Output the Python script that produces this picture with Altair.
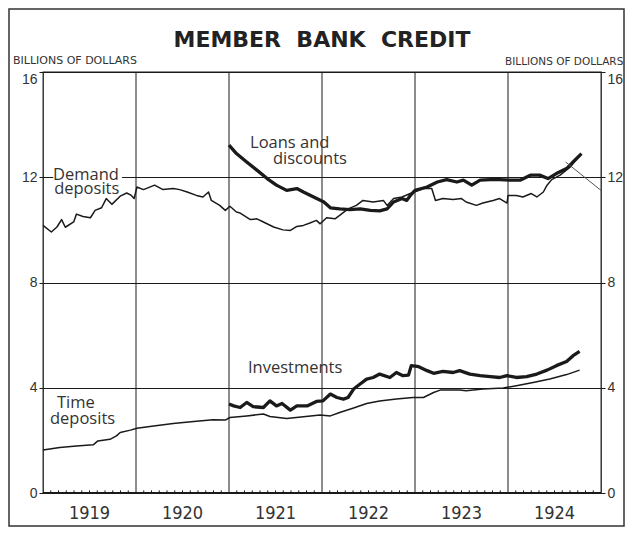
import altair as alt
import pandas as pd

# ---- data (decimal years, billions of dollars) ----
demand_t = [1919.00, 1919.09, 1919.15, 1919.20, 1919.24, 1919.33, 1919.36, 1919.43, 1919.51, 1919.56,
            1919.63, 1919.68, 1919.74, 1919.83, 1919.90, 1919.95, 1919.98, 1920.01, 1920.08, 1920.20,
            1920.29, 1920.40, 1920.47, 1920.55, 1920.65, 1920.72, 1920.78, 1920.81, 1920.90, 1920.96,
            1921.01, 1921.08, 1921.12, 1921.23, 1921.30, 1921.37, 1921.48, 1921.58, 1921.66, 1921.73,
            1921.80, 1921.87, 1921.94, 1921.98, 1922.05, 1922.14, 1922.19, 1922.28, 1922.37, 1922.44,
            1922.55, 1922.66, 1922.70, 1922.77, 1922.86, 1922.95, 1922.98, 1923.09, 1923.18, 1923.22,
            1923.30, 1923.41, 1923.50, 1923.55, 1923.66, 1923.73, 1923.84, 1923.91, 1923.99, 1924.00,
            1924.09, 1924.16, 1924.25, 1924.31, 1924.38, 1924.42, 1924.47, 1924.56, 1924.67, 1924.77]
demand_v = [10.17, 9.92, 10.11, 10.39, 10.10, 10.30, 10.60, 10.51, 10.46, 10.74,
            10.84, 11.19, 10.97, 11.28, 11.40, 11.31, 11.19, 11.63, 11.53, 11.70,
            11.53, 11.57, 11.53, 11.44, 11.31, 11.25, 11.44, 11.12, 10.93, 10.74,
            10.90, 10.68, 10.64, 10.39, 10.42, 10.30, 10.11, 10.00, 9.98, 10.13,
            10.17, 10.26, 10.36, 10.23, 10.46, 10.42, 10.55, 10.80, 10.93, 11.12,
            11.06, 11.12, 10.93, 11.19, 11.25, 11.38, 11.42, 11.57, 11.57, 11.12,
            11.19, 11.15, 11.19, 11.06, 10.93, 11.02, 11.12, 11.19, 11.02, 11.31,
            11.31, 11.25, 11.38, 11.25, 11.44, 11.70, 11.91, 12.08, 12.39, 12.84]

loans_t = [1921.00, 1921.08, 1921.19, 1921.30, 1921.41, 1921.51, 1921.62, 1921.73, 1921.80, 1921.91,
           1922.02, 1922.09, 1922.19, 1922.30, 1922.41, 1922.52, 1922.62, 1922.70, 1922.77, 1922.86,
           1922.91, 1922.95, 1923.00, 1923.13, 1923.24, 1923.34, 1923.45, 1923.52, 1923.61, 1923.70,
           1923.81, 1923.91, 1924.02, 1924.13, 1924.24, 1924.34, 1924.43, 1924.52, 1924.63, 1924.70,
           1924.79]
loans_v = [13.22, 12.90, 12.58, 12.27, 11.95, 11.70, 11.50, 11.57, 11.44, 11.25,
           11.06, 10.84, 10.80, 10.77, 10.80, 10.74, 10.72, 10.80, 11.06, 11.19,
           11.12, 11.31, 11.50, 11.63, 11.82, 11.91, 11.82, 11.89, 11.70, 11.89,
           11.91, 11.91, 11.89, 11.89, 12.08, 12.08, 11.95, 12.14, 12.33, 12.58,
           12.90]

time_t = [1919.00, 1919.18, 1919.36, 1919.54, 1919.59, 1919.72, 1919.79, 1919.83, 1919.94, 1920.01,
          1920.19, 1920.40, 1920.62, 1920.83, 1920.96, 1921.01, 1921.19, 1921.37, 1921.44, 1921.62,
          1921.80, 1921.98, 1922.09, 1922.19, 1922.34, 1922.48, 1922.62, 1922.80, 1922.98, 1923.09,
          1923.20, 1923.27, 1923.48, 1923.55, 1923.73, 1923.95, 1924.09, 1924.27, 1924.45, 1924.63,
          1924.77]
time_v = [1.63, 1.73, 1.79, 1.83, 1.98, 2.04, 2.17, 2.30, 2.39, 2.46,
          2.55, 2.64, 2.72, 2.78, 2.77, 2.87, 2.93, 3.00, 2.91, 2.83,
          2.90, 2.96, 2.93, 3.06, 3.23, 3.40, 3.50, 3.57, 3.63, 3.63,
          3.82, 3.91, 3.91, 3.89, 3.95, 3.99, 4.08, 4.20, 4.33, 4.50,
          4.67]

inv_t = [1921.00, 1921.05, 1921.12, 1921.19, 1921.26, 1921.37, 1921.44, 1921.51, 1921.57, 1921.66,
         1921.73, 1921.84, 1921.94, 1922.01, 1922.09, 1922.16, 1922.23, 1922.28, 1922.34, 1922.41,
         1922.48, 1922.55, 1922.62, 1922.73, 1922.80, 1922.87, 1922.93, 1922.96, 1923.04, 1923.13,
         1923.20, 1923.30, 1923.41, 1923.48, 1923.59, 1923.70, 1923.81, 1923.91, 1923.99, 1924.09,
         1924.20, 1924.31, 1924.42, 1924.52, 1924.63, 1924.70, 1924.77]
inv_v = [3.38, 3.31, 3.25, 3.44, 3.28, 3.25, 3.50, 3.31, 3.40, 3.15,
         3.31, 3.31, 3.48, 3.50, 3.76, 3.63, 3.57, 3.63, 3.95, 4.14,
         4.33, 4.39, 4.52, 4.39, 4.58, 4.46, 4.48, 4.84, 4.80, 4.65,
         4.55, 4.62, 4.58, 4.65, 4.52, 4.46, 4.42, 4.39, 4.46, 4.39,
         4.42, 4.52, 4.67, 4.84, 5.00, 5.22, 5.38]

years = [1919, 1920, 1921, 1922, 1923, 1924]
y_ticks = [0, 4, 8, 12, 16]

labels = ["Demand", "deposits", "Loans and", "discounts", "Investments", "Time", "deposits"]
label_t = [1919.108, 1919.12, 1921.226, 1921.473, 1921.204, 1919.15, 1919.075]
label_v = [11.90, 11.36, 13.11, 12.52, 4.55, 3.23, 2.63]

# ---- tables ----
def series(name, ts, vs):
    return pd.DataFrame({"series": name, "t": ts, "v": vs})

thin_df = pd.concat([series("Demand deposits", demand_t, demand_v),
                     series("Time deposits", time_t, time_v)])
thick_df = pd.concat([series("Loans and discounts", loans_t, loans_v),
                      series("Investments", inv_t, inv_v)])
grid_df = pd.DataFrame({"t": years[1:]})
year_df = pd.DataFrame({"year": [str(y) for y in years], "mid": [y + 0.5 for y in years]})
month_df = pd.DataFrame({"t": [y + m / 12 for y in years for m in range(1, 12)]})
month_df["y0"] = 0.0
month_df["y1"] = 0.1
base_df = pd.DataFrame({"v": [0.0]})
label_df = pd.DataFrame({"label": labels, "t": label_t, "v": label_v})
mask_df = pd.DataFrame({"t1": [1919.11], "t2": [1919.85], "v1": [11.8], "v2": [12.2]})
pointer_df = pd.DataFrame({"t1": [1924.62], "t2": [1925.0], "v1": [12.58], "v2": [11.5]})
one = pd.DataFrame({"a": [0]})

X = alt.Scale(domain=[1919, 1925], nice=False, zero=False)
Y = alt.Scale(domain=[0, 16], nice=False)
INK = "#1a1a1a"
LABEL_FONT = "Liberation Sans"
flush_baseline = {"condition": {"test": "datum.value == 16", "value": "top"}, "value": "middle"}

gridrules = alt.Chart(grid_df).mark_rule(color=INK, strokeWidth=1).encode(
    x=alt.X("t:Q", scale=X, axis=None))

mask = alt.Chart(mask_df).mark_rect(color="white").encode(
    x=alt.X("t1:Q", scale=X, axis=None), x2="t2:Q",
    y=alt.Y("v1:Q", scale=Y, axis=None), y2="v2:Q")

thin = alt.Chart(thin_df).mark_line(color=INK, strokeWidth=1.5, strokeJoin="round").encode(
    x=alt.X("t:Q", scale=X, axis=None),
    y=alt.Y("v:Q", scale=Y, axis=alt.Axis(
        orient="left", values=y_ticks, title=None, grid=True, gridColor=INK, gridWidth=1,
        gridOpacity=1, domain=False, ticks=True, tickSize=4, tickColor=INK,
        labelFont=LABEL_FONT, labelFontSize=14, labelColor="#333", labelPadding=2,
        labelBaseline=flush_baseline)),
    detail="series:N")

thick = alt.Chart(thick_df).mark_line(color=INK, strokeWidth=3.3, strokeJoin="round").encode(
    x=alt.X("t:Q", scale=X, axis=None),
    y=alt.Y("v:Q", scale=Y, axis=alt.Axis(
        orient="right", values=y_ticks, title=None, grid=False, domain=False, ticks=True,
        tickSize=4, tickColor=INK, labelFont=LABEL_FONT, labelFontSize=14,
        labelColor="#333", labelPadding=2, labelBaseline=flush_baseline)),
    detail="series:N")

baseline = alt.Chart(base_df).mark_rule(color=INK, strokeWidth=2.2).encode(
    y=alt.Y("v:Q", scale=Y, axis=None))

months = alt.Chart(month_df).mark_rule(color=INK, strokeWidth=1).encode(
    x=alt.X("t:Q", scale=X, axis=None),
    y=alt.Y("y0:Q", scale=Y, axis=None), y2="y1:Q")

year_labels = alt.Chart(year_df).mark_text(
    baseline="top", align="center",
    font="Liberation Sans Narrow, DejaVu Sans Condensed, Liberation Sans",
    fontSize=18, color="#333").encode(
    x=alt.X("mid:Q", scale=X, axis=None), y=alt.value(433), text="year:N")

pointer = alt.Chart(pointer_df).mark_rule(color="#555", strokeWidth=1).encode(
    x=alt.X("t1:Q", scale=X, axis=None), x2="t2:Q",
    y=alt.Y("v1:Q", scale=Y, axis=None), y2="v2:Q")

notes = alt.Chart(label_df).mark_text(
    align="left", baseline="alphabetic", font="Open Sans", fontSize=16.5, color="#333").encode(
    x=alt.X("t:Q", scale=X, axis=None), y=alt.Y("v:Q", scale=Y, axis=None), text="label:N")

title = alt.Chart(one).mark_text(
    text="MEMBER\u00a0\u00a0BANK\u00a0\u00a0CREDIT", align="center", baseline="alphabetic",
    font="DejaVu Sans", fontWeight="bold", fontSize=22, color="#222").encode(
    x=alt.value(279), y=alt.value(-25))

unit_left = alt.Chart(one).mark_text(
    text="BILLIONS OF DOLLARS", align="left", baseline="alphabetic",
    font="DejaVu Sans", fontSize=11, color="#333").encode(x=alt.value(-30), y=alt.value(-8))

unit_right = alt.Chart(one).mark_text(
    text="BILLIONS OF DOLLARS", align="left", baseline="alphabetic",
    font="DejaVu Sans", fontSize=10.5, color="#333").encode(x=alt.value(462), y=alt.value(-7))

frame = alt.Chart(one).mark_rect(filled=False, stroke="#333", strokeWidth=1.5).encode(
    x=alt.value(-34), x2=alt.value(581), y=alt.value(-63), y2=alt.value(454))

chart = alt.layer(
    gridrules, thin, mask, thick, baseline, months, year_labels, pointer, notes,
    title, unit_left, unit_right, frame
).resolve_axis(y="independent").properties(
    width=558, height=421,
    autosize=alt.AutoSizeParams(type="none"),
    padding={"left": 35, "top": 64, "right": 24, "bottom": 34},
    background="white",
).configure_view(stroke=INK, strokeWidth=1.3)

chart.save("out.html", embed_options={"renderer": "svg", "actions": False})
